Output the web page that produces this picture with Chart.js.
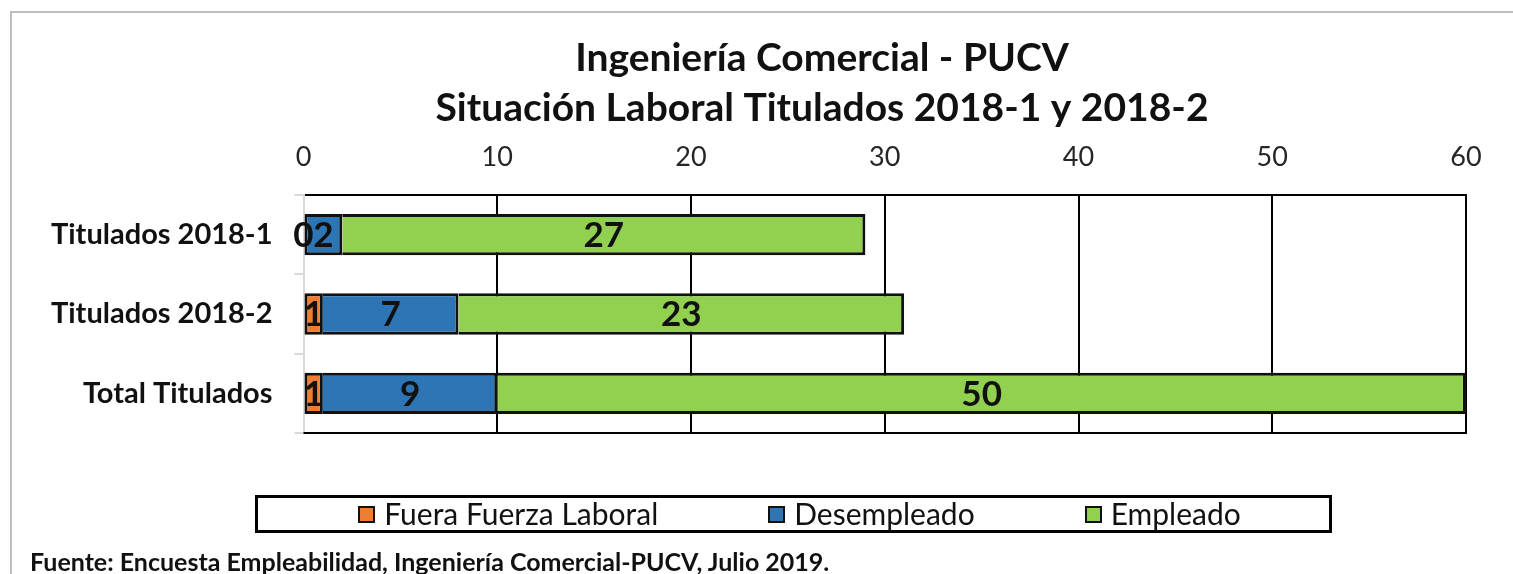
<!DOCTYPE html>
<html>
<head>
<meta charset="utf-8">
<script src="https://cdn.jsdelivr.net/npm/chart.js"></script>
<style>
  body { margin: 0; background: #fff; font-family: Lato, sans-serif; }
  #wrap { position: relative; width: 1513px; height: 574px; overflow: hidden; }
  #frame { position: absolute; left: 10px; top: 11px; width: 1600px; height: 700px;
           border-left: 2px solid #bdbdbd; border-top: 2px solid #bdbdbd; }
  #chartBox { position: absolute; left: 0; top: 0; width: 1513px; height: 574px; }
  #legend { position: absolute; left: 255px; top: 495px; width: 1077px; height: 38px;
            box-sizing: border-box; border: 3px solid #000; display: flex;
            align-items: center; justify-content: center; gap: 110px; padding-left: 12px; }
  .item { display: flex; align-items: center; font-size: 30px; color: #111; white-space: nowrap; margin-top: -2px; }
  .sq { width: 13px; height: 13px; border: 2px solid #111; margin-right: 9px; margin-top: 2px; }
  #fuente { position: absolute; left: 30px; top: 546px; font-size: 25px; font-weight: bold; color: #111; white-space: nowrap; }
</style>
</head>
<body>
<div id="wrap">
  <div id="frame"></div>
  <div id="chartBox"><canvas id="myChart"></canvas></div>
  <div id="legend"></div>
  <div id="fuente">Fuente: Encuesta Empleabilidad, Ingeniería Comercial-PUCV, Julio 2019.</div>
</div>
<script>
// datos
const categorias = ['Titulados 2018-1', 'Titulados 2018-2', 'Total Titulados']
const fueraFuerza = [0, 1, 1]
const desempleado = [2, 7, 9]
const empleado = [27, 23, 50]
const nombresSeries = ['Fuera Fuerza Laboral', 'Desempleado', 'Empleado']
const coloresSeries = ['#ED7D31', '#2E75B6', '#92D050']
const tituloLineas = ['Ingeniería Comercial - PUCV', 'Situación Laboral Titulados 2018-1 y 2018-2']
const ejeMax = 60
const ejePaso = 10

Chart.defaults.font.family = 'Lato'

// borde izquierdo solo en el primer tramo visible de cada barra
function bordeBarra(ctx) {
    let izq = 0
    if (ctx.datasetIndex == 0) izq = 3
    if (ctx.datasetIndex == 1 && fueraFuerza[ctx.dataIndex] == 0) izq = 3
    return { top: 3, bottom: 3, right: 3, left: izq }
}

function serie(i, datos) {
    return {
        label: nombresSeries[i],
        data: datos,
        backgroundColor: coloresSeries[i],
        borderColor: '#111',
        borderWidth: bordeBarra,
        borderSkipped: false,
        barPercentage: 1,
        categoryPercentage: 0.52
    }
}

const etiquetasPlugin = {
    id: 'etiquetas',
    afterDatasetsDraw(chart) {
        const ctx = chart.ctx
        ctx.save()
        ctx.font = 'bold 35px Lato'
        ctx.fillStyle = '#111'
        ctx.textAlign = 'center'
        ctx.textBaseline = 'middle'
        chart.data.datasets.forEach((ds, i) => {
            chart.getDatasetMeta(i).data.forEach((bar, j) => {
                ctx.fillText(ds.data[j], (bar.x + bar.base) / 2, bar.y + 1)
            })
        })
        ctx.restore()
    },
    afterDraw(chart) {
        const a = chart.chartArea
        const ctx = chart.ctx
        ctx.save()
        // linea inferior del area de trazado
        ctx.strokeStyle = '#000'
        ctx.lineWidth = 2
        ctx.beginPath()
        ctx.moveTo(a.left, a.bottom)
        ctx.lineTo(a.right + 1, a.bottom)
        ctx.stroke()
        // titulo en dos lineas
        ctx.font = 'bold 39px Lato'
        ctx.fillStyle = '#111'
        ctx.textAlign = 'center'
        ctx.textBaseline = 'middle'
        tituloLineas.forEach((t, i) => ctx.fillText(t, 822, 58 + i * 50))
        ctx.restore()
    }
}

let myChart = new Chart(document.getElementById('myChart'), {
    type: 'bar',
    data: {
        labels: categorias,
        datasets: [serie(0, fueraFuerza), serie(1, desempleado), serie(2, empleado)]
    },
    options: {
        indexAxis: 'y',
        responsive: true,
        maintainAspectRatio: false,
        animation: false,
        layout: { padding: { left: 0, right: 47, top: 142, bottom: 141 } },
        plugins: {
            legend: { display: false },
            tooltip: { enabled: false }
        },
        scales: {
            x: {
                position: 'top',
                stacked: true,
                min: 0,
                max: ejeMax,
                ticks: { stepSize: ejePaso, padding: 22, color: '#262626', font: { size: 27 } },
                grid: {
                    drawTicks: false,
                    lineWidth: 2,
                    color: (c) => (c.index == 0 ? 'rgba(0,0,0,0)' : '#000')
                },
                border: { display: true, color: '#000', width: 2 },
                afterFit: (s) => { s.height = 53 }
            },
            y: {
                stacked: true,
                ticks: { padding: 22, color: '#111', font: { size: 29, weight: 'bold' } },
                grid: { drawOnChartArea: false, tickLength: 9, color: '#d9d9d9', lineWidth: 2 },
                border: { display: true, color: '#d9d9d9', width: 2 },
                afterFit: (s) => { s.width = 303.5 }
            }
        }
    },
    plugins: [etiquetasPlugin]
})

// leyenda con recuadro
let legendDiv = document.getElementById('legend')
nombresSeries.forEach((n, i) => {
    let it = document.createElement('div')
    it.className = 'item'
    let sq = document.createElement('span')
    sq.className = 'sq'
    sq.style.background = coloresSeries[i]
    let tx = document.createElement('span')
    tx.textContent = n
    it.appendChild(sq)
    it.appendChild(tx)
    legendDiv.appendChild(it)
})
</script>
</body>
</html>
